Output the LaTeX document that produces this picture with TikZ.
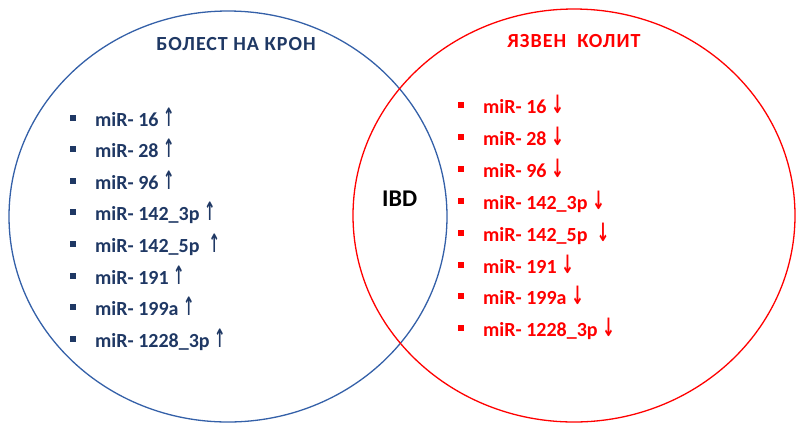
\documentclass[tikz,border=0pt]{standalone}
\usepackage{fontspec}
\setmainfont{Carlito}
\newfontfamily\arrowfont{DejaVu Sans}
\definecolor{cdtext}{RGB}{31,56,100}
\definecolor{cdline}{RGB}{52,96,168}
\definecolor{ucred}{RGB}{255,0,0}
\newcommand{\sq}{\rule[5.5bp]{6bp}{6bp}\hspace{19bp}}
\newcommand{\up}{{\fontsize{22bp}{22bp}\arrowfont\bfseries\scalebox{0.62}[1.15]{↑}}}
\newcommand{\down}{{\fontsize{22bp}{22bp}\arrowfont\bfseries\scalebox{0.7}[1.15]{↓}}}
\tikzset{
  item/.style={anchor=base west,inner sep=0pt,font=\fontsize{20bp}{24bp}\bfseries},
  title/.style={anchor=base,inner sep=0pt,font=\fontsize{20bp}{24bp}\bfseries\addfontfeatures{LetterSpace=5}}
}
\begin{document}
\begin{tikzpicture}[x=1bp,y=-1bp]
  \useasboundingbox (0,0) rectangle (797,424);
  % the two sets
  \draw[cdline,line width=1.3bp] (228,216.5) ellipse [x radius=219,y radius=205.5];
  \draw[ucred,line width=1.3bp] (574,215.5) ellipse [x radius=221,y radius=206.5];
  % titles
  \node[title,cdtext] (cdtitle) at (236,50) {БОЛЕСТ НА КРОН};
  \node[title,ucred] (uctitle) at (574,47) {ЯЗВЕН\ \ КОЛИТ};
  \node[anchor=base west,inner sep=0pt,font=\fontsize{24bp}{28bp}\bfseries] (ibd) at (382,206) {IBD};
  % crohn's disease
  \node[item,cdtext] (cd1) at (70,126) {\sq miR- 16 \up};
  \node[item,cdtext] (cd2) at (70,157.6) {\sq miR- 28 \up};
  \node[item,cdtext] (cd3) at (70,189.2) {\sq miR- 96 \up};
  \node[item,cdtext] (cd4) at (70,220.8) {\sq miR- 142\_3p \up};
  \node[item,cdtext] (cd5) at (70,252.4) {\sq miR- 142\_5p\ \ \up};
  \node[item,cdtext] (cd6) at (70,284) {\sq miR- 191 \up};
  \node[item,cdtext] (cd7) at (70,315.6) {\sq miR- 199a \up};
  \node[item,cdtext] (cd8) at (70,347.2) {\sq miR- 1228\_3p \up};
  % ulcerative colitis
  \node[item,ucred] (uc1) at (458,113) {\sq miR- 16 \down};
  \node[item,ucred] (uc2) at (458,145) {\sq miR- 28 \down};
  \node[item,ucred] (uc3) at (458,177) {\sq miR- 96 \down};
  \node[item,ucred] (uc4) at (458,209) {\sq miR- 142\_3p \down};
  \node[item,ucred] (uc5) at (458,241) {\sq miR- 142\_5p\ \ \down};
  \node[item,ucred] (uc6) at (458,273) {\sq miR- 191 \down};
  \node[item,ucred] (uc7) at (458,304.6) {\sq miR- 199a \down};
  \node[item,ucred] (uc8) at (458,336.5) {\sq miR- 1228\_3p \down};
\end{tikzpicture}
\end{document}
